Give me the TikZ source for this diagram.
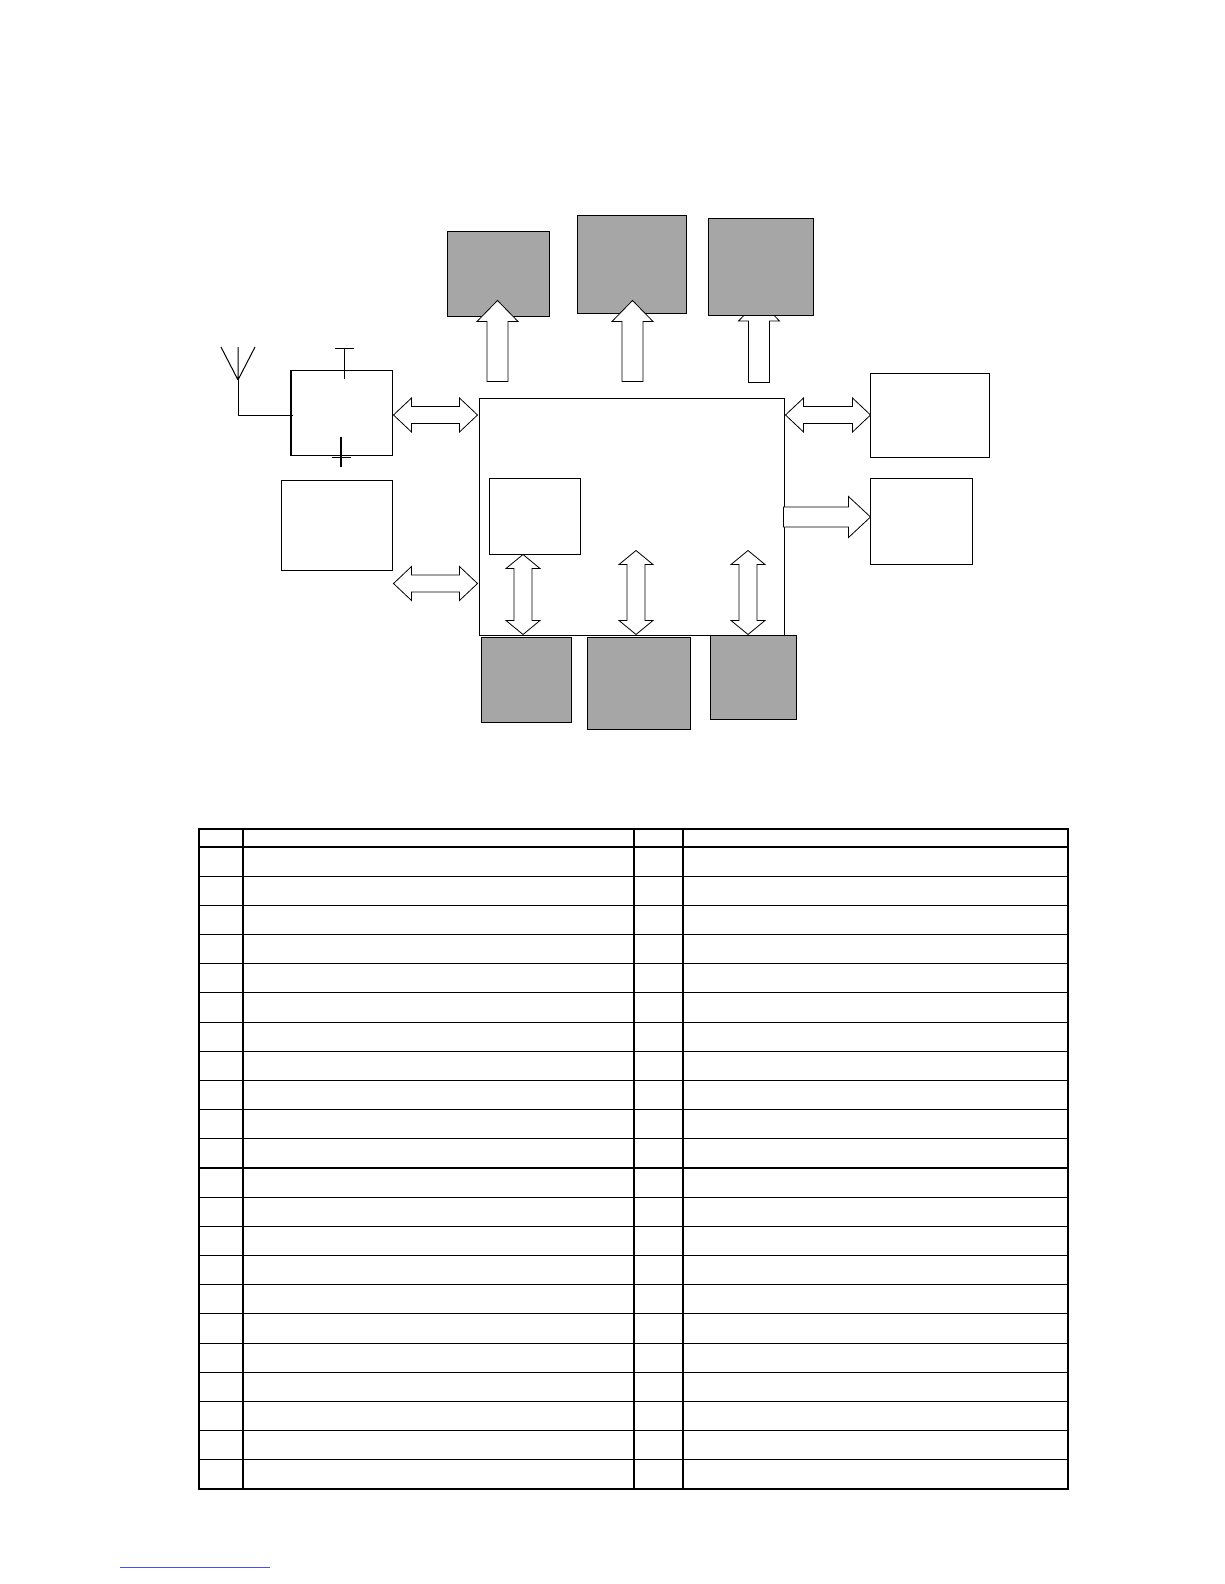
\documentclass[tikz,border=0pt]{standalone}
\usepackage{tikz}
\usetikzlibrary{calc,positioning}

\definecolor{boxgray}{RGB}{166,166,166}

% fat block arrows between two named points
\newcommand\hdbl[2]{\draw[blockarrow] (#1) -- ++(18,-17) -- ++(0,8.5) -- ($(#2)+(-18,-8.5)$) -- ++(0,-8.5) -- (#2) -- ++(-18,17) -- ++(0,-8.5) -- ($(#1)+(18,8.5)$) -- ++(0,8.5) -- cycle;}
\newcommand\vdbl[2]{\draw[blockarrow] (#1) -- ++(17,14) -- ++(-8,0) -- ($(#2)+(9,-14)$) -- ++(8,0) -- (#2) -- ++(-17,-14) -- ++(8,0) -- ($(#1)+(-9,14)$) -- ++(-8,0) -- cycle;}
\newcommand\uparr[2]{\draw[blockarrow] (#2) -- ++(20.5,21) -- ++(-10,0) -- ($(#1)+(10.5,0)$) -- ++(-21,0) -- ($(#2)+(-10.5,21)$) -- ++(-10,0) -- cycle;}
\newcommand\rtarr[2]{\draw[blockarrow] ($(#1)+(0,-10)$) -- ($(#2)+(-22,-10)$) -- ++(0,-10.5) -- (#2) -- ++(-22,20.5) -- ++(0,-10.5) -- ($(#1)+(0,10)$) -- cycle;}

\tikzset{
  box/.style={draw, line width=1pt, inner sep=0pt},
  graybox/.style={box, fill=boxgray},
  blockarrow/.style={draw, fill=white, line width=0.8pt, line join=miter}
}

\begin{document}
\begin{tikzpicture}[x=1pt, y=-1pt]
\useasboundingbox (0,0) rectangle (1224,1584);

\node [box, minimum width=305pt, minimum height=237pt] (mcu) at (631.5,516.5) {};
\node [box, minimum width=91pt, minimum height=76pt] (inner) at (534.5,516) {};
\node [box, minimum width=101pt, minimum height=85pt] (rf) at (341.5,412.5) {};
\node [box, minimum width=111pt, minimum height=90pt] (mem) at (336.5,525) {};
\node [box, minimum width=119pt, minimum height=84pt] (rG) at (929.5,415) {};
\node [box, minimum width=102pt, minimum height=86pt] (rH) at (921,521) {};

\node [graybox, minimum width=102pt, minimum height=85pt] (gA) at (498,273.5) {};
\node [graybox, minimum width=109pt, minimum height=98pt] (gB) at (631.5,264) {};
\node [graybox, minimum width=90pt, minimum height=85pt] (gD) at (526,679.5) {};
\node [graybox, minimum width=103pt, minimum height=92pt] (gE) at (638.5,683) {};
\node [graybox, minimum width=86pt, minimum height=84pt] (gF) at (753,677) {};

% antenna and supply lines
\coordinate (ant) at (238,380);
\draw [line width=1pt] (ant) -- ++(-17,-33) (ant) -- ++(17,-33) (ant) -- ++(0,-33);
\draw [line width=1pt] (ant) |- ($(rf.west)+(2,2.5)$);
\draw [line width=2pt] (rf.north west) -- (rf.south west);
\draw [line width=1pt] ($(rf.north)+(2.5,9)$) -- ++(0,-30) ++(-9.5,0) -- ++(19,0);
\draw [line width=2pt] ($(rf.south)+(-0.5,-19)$) -- ++(0,30);
\draw [line width=1pt] ($(rf.south)+(-9.5,2)$) -- ++(19,0);

% arrow end points
\coordinate (h1a) at ($(rf.east)+(1,2.5)$);
\coordinate (h1b) at ($(h1a -| mcu.west)+(-1,0)$);
\coordinate (h2a) at ($(h1a |- mcu.south)+(0,-52)$);
\coordinate (h2b) at ($(h2a -| mcu.west)+(-1,0)$);
\coordinate (h3a) at ($(h1a -| mcu.east)+(1,0)$);
\coordinate (h3b) at ($(h3a -| rG.west)+(1,0)$);
\coordinate (ra) at ($(mcu.east)+(-1,0.5)$);
\coordinate (rb) at ($(ra -| rH.west)+(1,0)$);
\coordinate (ua2) at ($(gA.south)+(-0.5,-16)$);
\coordinate (ua1) at ($(ua2 |- mcu.north)+(0,-16)$);
\coordinate (ub2) at ($(gB.south)+(1,-13)$);
\coordinate (ub1) at (ub2 |- ua1);
\coordinate (uc2) at (759,300);
\coordinate (uc1) at ($(uc2 |- ua1)+(0,1)$);
\coordinate (v1a) at ($(inner.south)+(-11.5,0)$);
\coordinate (v1b) at ($(v1a |- mcu.south)+(0,-1)$);
\coordinate (v2a) at ($(v1a)+(113,-4)$);
\coordinate (v2b) at (v2a |- v1b);
\coordinate (v3a) at ($(v2a)+(112,0)$);
\coordinate (v3b) at (v3a |- v1b);

\hdbl{h1a}{h1b}
\hdbl{h2a}{h2b}
\hdbl{h3a}{h3b}
\rtarr{ra}{rb}
\uparr{ua1}{ua2}
\uparr{ub1}{ub2}
\uparr{uc1}{uc2}
\vdbl{v1a}{v1b}
\vdbl{v2a}{v2b}
\vdbl{v3a}{v3b}

\node [graybox, minimum width=105pt, minimum height=97pt] (gC) at (760.5,266.5) {};

% table
\draw [line width=1.1pt] (199,829) rectangle (1068,1489);
\draw [line width=1.1pt] (199,847) -- (1068,847);
\foreach \k in {1,...,21}
  \draw [line width=1.1pt] (199,847+\k*29.18) -- (1068,847+\k*29.18);
\foreach \x in {243,634,683}
  \draw [line width=1.1pt] (\x,829) -- (\x,1489);

\draw [blue!70, line width=0.8pt] (120,1567) -- (270,1567);
\end{tikzpicture}
\end{document}
